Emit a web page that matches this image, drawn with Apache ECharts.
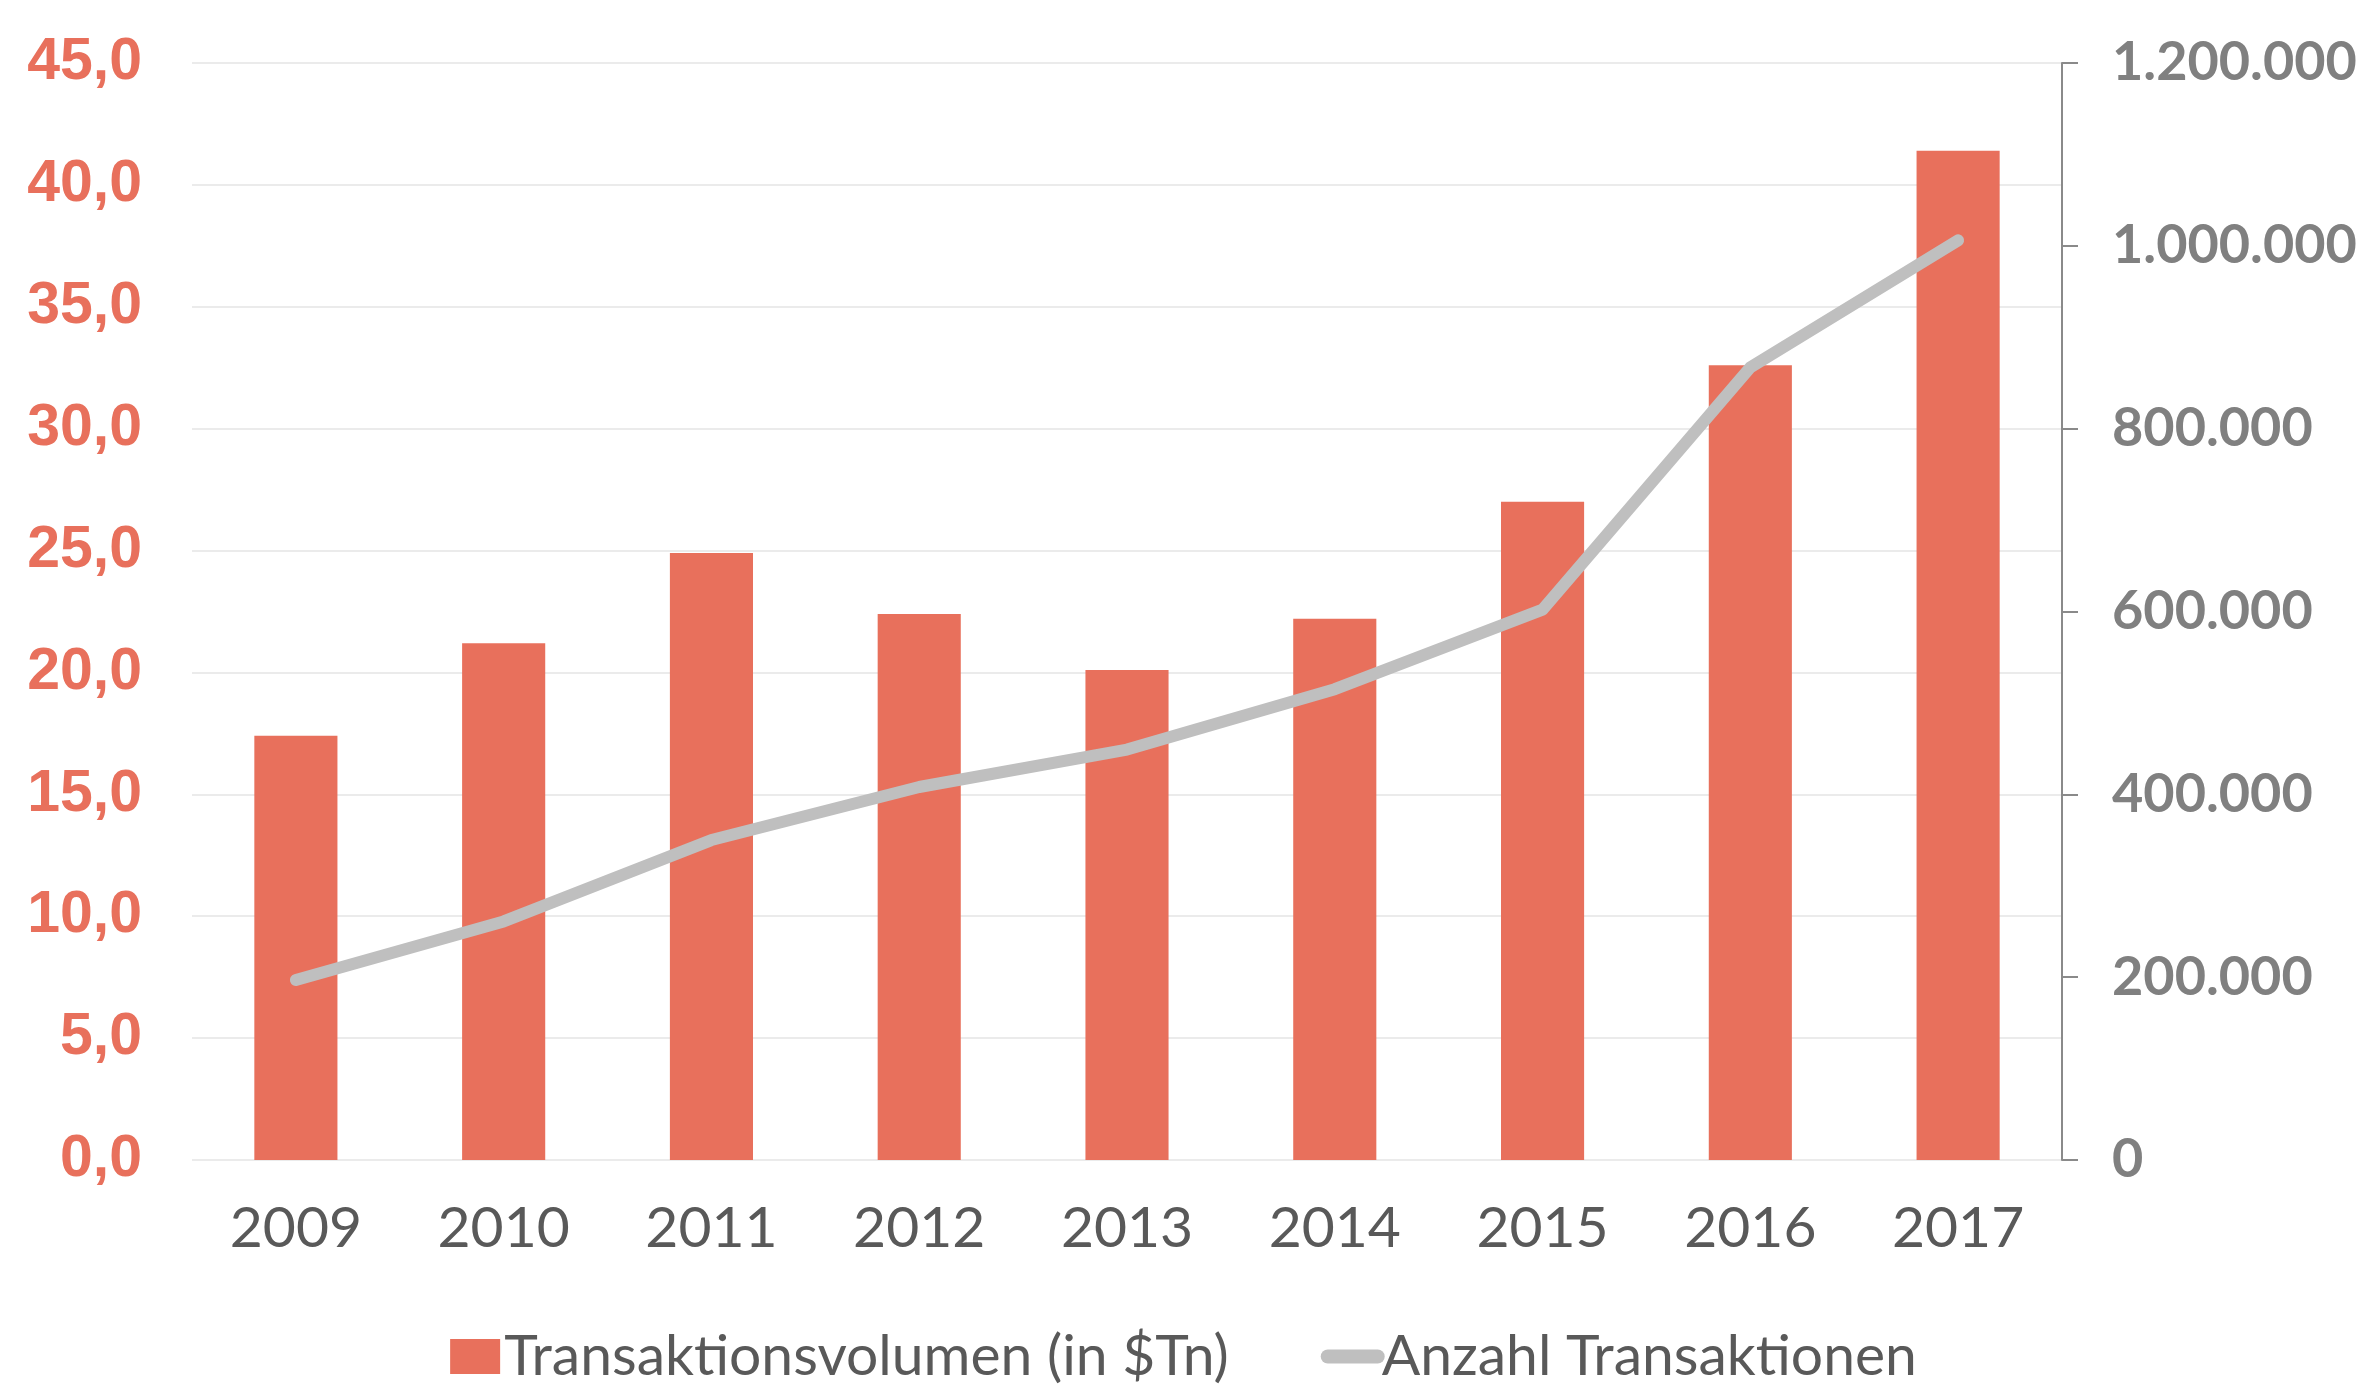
<!DOCTYPE html>
<html>
<head>
<meta charset="utf-8">
<script src="https://cdn.jsdelivr.net/npm/echarts@6/dist/echarts.min.js"></script>
<style>
  html, body { margin: 0; padding: 0; background: #fff; }
  #chart { width: 2367px; height: 1398px; }
</style>
</head>
<body>
<div id="chart"></div>
<script>
// Jahre
var years = ['2009', '2010', '2011', '2012', '2013', '2014', '2015', '2016', '2017'];
// Transaktionsvolumen (in $Tn)
var volumen = [17.4, 21.2, 24.9, 22.4, 20.1, 22.2, 27.0, 32.6, 41.4];
// Anzahl Transaktionen
var anzahl = [197000, 261000, 350000, 408000, 449000, 515000, 602000, 867000, 1006000];

var volName = 'Transaktionsvolumen (in $Tn)';
var anzName = 'Anzahl Transaktionen';

var chart = echarts.init(document.getElementById('chart'));

function tausender(v) {
    return String(v).replace(/\B(?=(\d{3})+(?!\d))/g, '.');
}

var option = {
    animation: false,
    grid: {
        left: 192,
        right: 305,
        top: 63,
        bottom: 238
    },
    legend: {
        bottom: 8,
        left: 'center',
        itemWidth: 64,
        itemHeight: 35,
        itemGap: 92,
        textStyle: {
            fontFamily: 'Lato',
            fontSize: 57,
            color: '#595959',
            padding: [0, 0, 0, -8]
        },
        data: [
            {
                name: volName,
                icon: 'path://M0,0 L50,0 L50,35 L0,35 Z',
                itemStyle: { color: '#E8705C' }
            },
            {
                name: anzName,
                icon: 'path://M7,0 L57,0 A7,7 0 0 1 57,14 L7,14 A7,7 0 0 1 7,0 Z',
                itemStyle: { color: '#bfbfbf' }
            }
        ]
    },
    xAxis: {
        type: 'category',
        data: years,
        axisLine: { show: false },
        axisTick: { show: false },
        axisLabel: {
            margin: 40,
            fontFamily: 'Lato',
            fontSize: 57,
            color: '#595959'
        }
    },
    yAxis: [
        {
            type: 'value',
            min: 0,
            max: 45,
            interval: 5,
            axisLine: { show: false },
            axisTick: { show: false },
            splitLine: { lineStyle: { color: '#ebebeb', width: 2 } },
            axisLabel: {
                margin: 50,
                fontFamily: 'Liberation Sans',
                fontWeight: 'bold',
                fontSize: 59,
                color: '#E8705C',
                formatter: function (v) { return v.toFixed(1).replace('.', ','); }
            }
        },
        {
            type: 'value',
            min: 0,
            max: 1200000,
            interval: 200000,
            position: 'right',
            splitLine: { show: false },
            axisLine: { show: true, lineStyle: { color: '#8a8a8a', width: 2 } },
            axisTick: { show: true, length: 16, lineStyle: { color: '#8a8a8a', width: 2 } },
            axisLabel: {
                margin: 50,
                fontFamily: 'Lato',
                fontWeight: 'bold',
                fontSize: 54,
                color: '#808080',
                formatter: tausender
            }
        }
    ],
    series: [
        {
            name: volName,
            type: 'bar',
            yAxisIndex: 0,
            barWidth: '40%',
            itemStyle: { color: '#E8705C' },
            data: volumen
        },
        {
            name: anzName,
            type: 'line',
            yAxisIndex: 1,
            symbol: 'none',
            lineStyle: { color: '#bfbfbf', width: 12, cap: 'round', join: 'round' },
            itemStyle: { color: '#bfbfbf' },
            data: anzahl
        }
    ]
};

chart.setOption(option);
</script>
</body>
</html>
